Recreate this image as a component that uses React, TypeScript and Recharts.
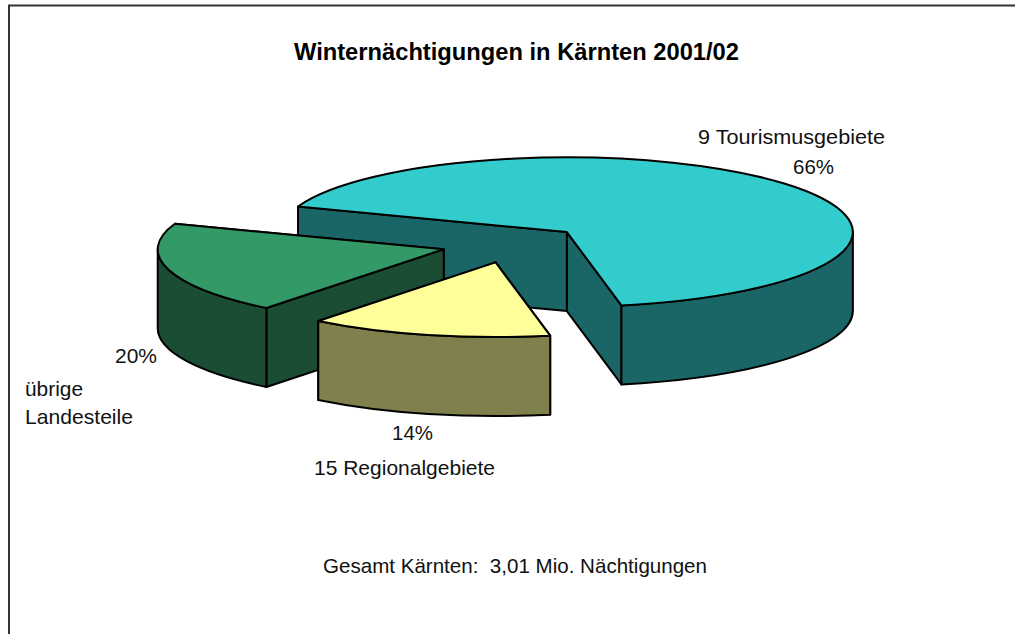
import React from "react";
import { PieChart, Pie } from "recharts";

const regions = ["9 Tourismusgebiete", "übrige Landesteile", "15 Regionalgebiete"];
const shares = [66.4, 19.9, 13.7];
const topColors = ["#33CCCC", "#339966", "#FFFF99"];
const wallColors = ["#1A6666", "#1A4D33", "#80804D"];
const title = "Winternächtigungen in Kärnten 2001/02";
const footer = "Gesamt Kärnten:  3,01 Mio. Nächtigungen";
const pct = (v: number) => `${Math.round(v)}%`;

const data = regions.map((name, i) => ({
  name,
  value: shares[i],
  fill: topColors[i],
  wall: wallColors[i],
}));

const TILT = 75 / 287;
const DEPTH = 79;
const EXPLODE = 0.25;
const RAD = Math.PI / 180;

function Slice3D(props: any) {
  const { cx, cy, outerRadius: r, startAngle, endAngle, fill, payload } = props;
  const s = Math.min(startAngle, endAngle);
  const e = Math.max(startAngle, endAngle);
  const mid = ((s + e) / 2) * RAD;
  const rx = r;
  const ry = r * TILT;
  const ax = cx + EXPLODE * rx * Math.cos(mid);
  const ay = cy - EXPLODE * ry * Math.sin(mid);
  const pt = (deg: number, d = 0) => {
    const x = ax + rx * Math.cos(deg * RAD);
    const y = ay - ry * Math.sin(deg * RAD) + d;
    return `${x.toFixed(2)} ${y.toFixed(2)}`;
  };
  const wall = payload?.wall ?? props.wall;
  const stroke = { stroke: "#000", strokeWidth: 2, strokeLinejoin: "round" as const };
  const arc = (from: number, to: number, d: number, sweep: number) =>
    `A ${rx} ${ry} 0 ${Math.abs(to - from) > 180 ? 1 : 0} ${sweep} ${pt(to, d)}`;

  const apex = `${ax.toFixed(2)} ${ay.toFixed(2)}`;
  const apexLow = `${ax.toFixed(2)} ${(ay + DEPTH).toFixed(2)}`;
  const face = (deg: number) => `M ${apex} L ${pt(deg)} L ${pt(deg, DEPTH)} L ${apexLow} Z`;
  const faces = [s, e]
    .map((deg, i) => ({ deg, outward: Math.sin((deg + (i === 0 ? -90 : 90)) * RAD) }))
    .sort((a, b) => b.outward - a.outward);

  const walls: string[] = [];
  for (let k = -1; k <= 1; k++) {
    const a = Math.max(s, 180 + 360 * k);
    const b = Math.min(e, 360 + 360 * k);
    if (b > a) {
      walls.push(`M ${pt(a)} ${arc(a, b, 0, 0)} L ${pt(b, DEPTH)} ${arc(b, a, DEPTH, 1)} Z`);
    }
  }
  const top = `M ${apex} L ${pt(s)} ${arc(s, e, 0, 0)} Z`;

  return (
    <g>
      {faces.map((f) => (
        <path key={f.deg} d={face(f.deg)} fill={wall} {...stroke} />
      ))}
      {walls.map((d) => (
        <path key={d} d={d} fill={wall} {...stroke} />
      ))}
      <path d={top} fill={fill} {...stroke} />
    </g>
  );
}

const font = "'Liberation Sans', Arial, sans-serif";
const labelStyle = { fontFamily: font, fontSize: 21, fill: "#111", whiteSpace: "pre" as const };

function Txt({ x, y, w, bold, children }: any) {
  return (
    <text
      x={x}
      y={y}
      textLength={w}
      lengthAdjust="spacingAndGlyphs"
      xmlSpace="preserve"
      style={bold ? { ...labelStyle, fontWeight: 700, fontSize: 23, fill: "#000" } : labelStyle}
    >
      {children}
    </text>
  );
}

export default function App() {
  return (
    <div style={{ position: "absolute", left: 0, top: 0, width: 1015, height: 634, overflow: "hidden", background: "#fff" }}>
      <PieChart width={1015} height={634} margin={{ top: 0, right: 0, bottom: 0, left: 0 }}>
        <path d="M 9 634 L 9 5.5 L 1015 5.5" fill="none" stroke="#333" strokeWidth={2} />
        <Pie
          data={data}
          dataKey="value"
          nameKey="name"
          cx={512.5}
          cy={244.2}
          innerRadius={0}
          outerRadius={286}
          startAngle={-79}
          endAngle={281}
          stroke="none"
          isAnimationActive={false}
          shape={(p: any) => <Slice3D {...p} />}
        />
        <Txt x={294} y={60} w={445} bold>{title}</Txt>
        <Txt x={698} y={144} w={187}>{regions[0]}</Txt>
        <Txt x={793} y={174} w={41}>{pct(shares[0])}</Txt>
        <Txt x={115} y={363} w={42}>{pct(shares[1])}</Txt>
        <Txt x={25} y={396} w={58}>übrige</Txt>
        <Txt x={25} y={424} w={108}>Landesteile</Txt>
        <Txt x={392} y={440} w={41}>{pct(shares[2])}</Txt>
        <Txt x={314} y={475} w={181}>{regions[2]}</Txt>
        <Txt x={323} y={573} w={384}>{footer}</Txt>
      </PieChart>
    </div>
  );
}
